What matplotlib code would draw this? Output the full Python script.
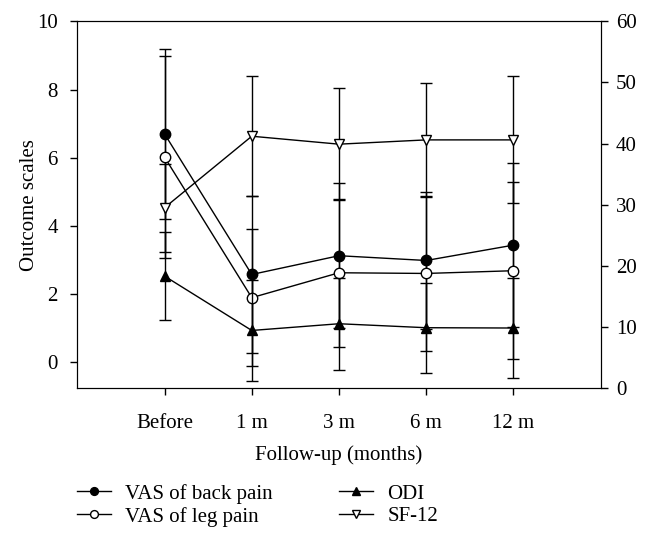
import matplotlib.pyplot as plt

plt.rcParams['font.family'] = ['Liberation Serif', 'DejaVu Serif']

# follow-up points
labels = ['Before', '1 m', '3 m', '6 m', '12 m']
x = [1, 2, 3, 4, 5]

# VAS scores (left axis), mean and SD
vas_back = [6.70, 2.58, 3.13, 2.99, 3.44]
vas_back_sd = [2.48, 2.31, 2.12, 2.00, 2.40]
vas_leg = [6.02, 1.90, 2.63, 2.61, 2.69]
vas_leg_sd = [2.96, 2.01, 2.17, 2.28, 2.59]

# ODI and SF-12 (right axis), mean and SD
odi = [18.3, 9.4, 10.5, 9.85, 9.8]
odi_sd = [7.2, 8.3, 7.5, 7.4, 8.2]
sf12 = [29.5, 41.2, 39.9, 40.6, 40.6]
sf12_sd = [7.2, 9.8, 9.2, 9.3, 10.4]

fig, ax = plt.subplots(figsize=(6.5, 5.35), dpi=100)
fig.subplots_adjust(left=0.119, right=0.924, top=0.960, bottom=0.275)
ax2 = ax.twinx()

kw = dict(color='black', lw=1, capsize=4.3, elinewidth=1, capthick=1, markersize=7.5)
h1 = ax.errorbar(x, vas_back, yerr=vas_back_sd, marker='o', mfc='black', mec='black', **kw)
h2 = ax.errorbar(x, vas_leg, yerr=vas_leg_sd, marker='o', mfc='white', mec='black', **kw)
h3 = ax2.errorbar(x, odi, yerr=odi_sd, marker='^', mfc='black', mec='black', **kw)
h4 = ax2.errorbar(x, sf12, yerr=sf12_sd, marker='v', mfc='white', mec='black', **kw)

ax.set_xlim(0, 6)
ax.set_ylim(-0.745, 10)
ax2.set_ylim(0, 60)
ax.set_yticks([0, 2, 4, 6, 8, 10])
ax2.set_yticks([0, 10, 20, 30, 40, 50, 60])
ax.set_xticks(x)
ax.set_xticklabels(labels)

ax.tick_params(axis='y', labelsize=15, length=5, width=1, pad=9)
ax.tick_params(axis='x', labelsize=15, length=5, width=1, pad=14)
ax2.tick_params(axis='y', labelsize=15, length=5, width=1, pad=6)
ax.set_xlabel('Follow-up (months)', fontsize=15, labelpad=9)
ax.set_ylabel('Outcome scales', fontsize=15, labelpad=-1.5)

leg_handles = [h1.lines[0], h2.lines[0], h3.lines[0], h4.lines[0]]
fig.legend(leg_handles, ['VAS of back pain', 'VAS of leg pain', 'ODI', 'SF-12'],
           loc='lower left', bbox_to_anchor=(0.106, 0.0), borderaxespad=0,
           ncol=2, frameon=False, fontsize=15, numpoints=1, handlelength=1.6,
           handletextpad=0.7, labelspacing=0.15, columnspacing=3.2, markerscale=0.75)

plt.savefig('out.png', dpi=100)
